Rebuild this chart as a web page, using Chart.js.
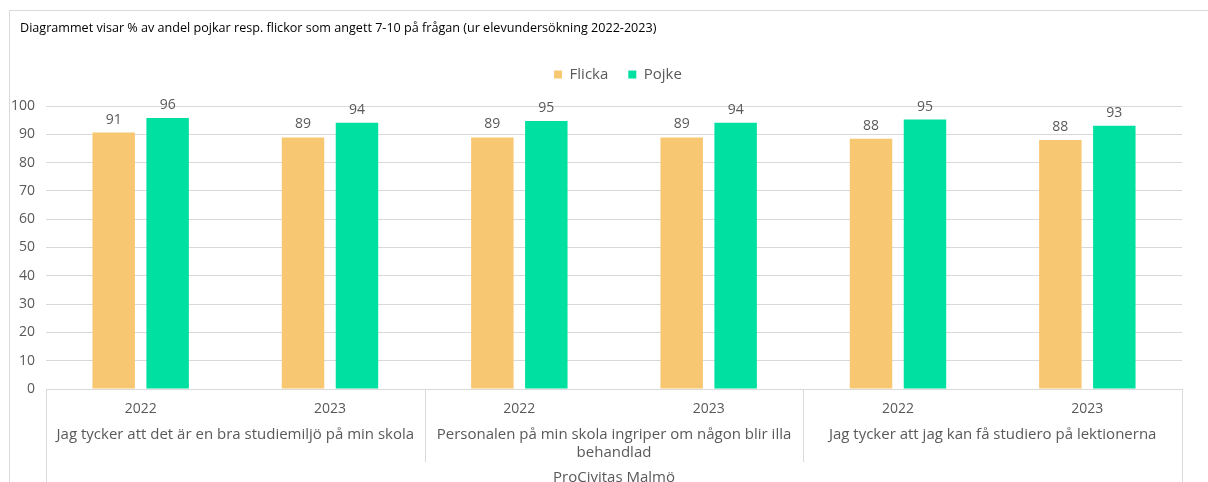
<!DOCTYPE html>
<html>
<head>
<meta charset="utf-8">
<script src="https://cdn.jsdelivr.net/npm/chart.js@4.4.1/dist/chart.umd.min.js"></script>
<style>
  html, body { margin: 0; padding: 0; background: #ffffff; }
  #wrap { width: 1208px; height: 482px; position: relative; }
</style>
</head>
<body>
<div id="wrap"><canvas id="c" width="1208" height="482"></canvas></div>
<script>
// ---- data ----
const titleText = 'Diagrammet visar % av andel pojkar resp. flickor som angett 7-10 på frågan (ur elevundersökning 2022-2023)';
const years = ['2022', '2023', '2022', '2023', '2022', '2023'];
const questions = [
  ['Jag tycker att det är en bra studiemiljö på min skola'],
  ['Personalen på min skola ingriper om någon blir illa', 'behandlad'],
  ['Jag tycker att jag kan få studiero på lektionerna']
];
const schools = ['ProCivitas Malmö'];
const seriesNames = ['Flicka', 'Pojke'];
const flicka = [90.6, 88.9, 88.9, 88.9, 88.4, 88.0];
const pojke  = [95.8, 94.1, 94.7, 94.1, 95.2, 93.0];
const yMin = 0, yMax = 100, yStep = 10;

// ---- style ----
const FONT = '"Open Sans"';
const TXT = '#595959';
const GRID = '#d9d9d9';
const COL_F = '#f8c772';
const COL_P = '#00e0a0';

const frameAndSeparators = {
  id: 'frameAndSeparators',
  afterDraw(chart) {
    const ctx = chart.ctx;
    const xs = chart.scales.x;
    const x2 = chart.scales.x2;
    const area = chart.chartArea;
    ctx.save();
    ctx.strokeStyle = GRID;
    ctx.lineWidth = 1;
    ctx.beginPath();
    ctx.moveTo(9.5, chart.height);
    ctx.lineTo(9.5, 10.5);
    ctx.lineTo(chart.width, 10.5);
    ctx.stroke();
    const per = years.length / questions.length;
    const bounds = [];
    for (let g = 0; g <= questions.length; g++) {
      let px;
      if (g === 0) px = area.left;
      else if (g === questions.length) px = area.right;
      else px = (xs.getPixelForValue(g * per - 1) + xs.getPixelForValue(g * per)) / 2;
      bounds.push(Math.round(px) + 0.5);
    }
    bounds.forEach((px, i) => {
      const outer = (i === 0 || i === bounds.length - 1);
      ctx.beginPath();
      ctx.moveTo(px, area.bottom);
      ctx.lineTo(px, outer ? chart.height : x2.bottom);
      ctx.stroke();
    });
    ctx.restore();
  }
};

const valueLabels = {
  id: 'valueLabels',
  afterDatasetsDraw(chart) {
    const ctx = chart.ctx;
    ctx.save();
    ctx.font = '14px ' + FONT;
    ctx.fillStyle = TXT;
    ctx.textAlign = 'center';
    ctx.textBaseline = 'middle';
    chart.data.datasets.forEach((ds, di) => {
      const meta = chart.getDatasetMeta(di);
      meta.data.forEach((bar, i) => {
        ctx.fillText(String(Math.round(ds.data[i])), bar.x, bar.y - 13);
      });
    });
    ctx.restore();
  }
};

const blockShift = {
  id: 'blockShift',
  afterLayout(chart) {
    chart.legend.left += 22;
    chart.legend.right += 22;
    chart.titleBlock.left += 10;
  }
};

new Chart(document.getElementById('c'), {
  type: 'bar',
  data: {
    labels: years,
    datasets: [
      { label: seriesNames[0], data: flicka, backgroundColor: COL_F, xAxisID: 'x', categoryPercentage: 0.57, barPercentage: 0.787 },
      { label: seriesNames[1], data: pojke, backgroundColor: COL_P, xAxisID: 'x', categoryPercentage: 0.57, barPercentage: 0.787 }
    ]
  },
  options: {
    responsive: false,
    animation: false,
    layout: { padding: { top: 12, left: 10, right: 26, bottom: 0 } },
    plugins: {
      title: {
        display: true, text: titleText, align: 'start', color: '#000000',
        font: { family: FONT, size: 12.6, weight: 'normal' },
        padding: { top: 8.5, bottom: 11.4 }
      },
      subtitle: {
        display: true, text: '', weight: 500, position: 'top',
        font: { size: 1, lineHeight: 1 }, padding: { top: 13, bottom: 0 }
      },
      legend: {
        display: true, position: 'top', align: 'center',
        labels: {
          color: TXT, font: { family: FONT, size: 15 },
          boxWidth: 8, boxHeight: 8, padding: 20
        }
      },
      tooltip: { enabled: false }
    },
    scales: {
      y: {
        min: yMin, max: yMax,
        ticks: { stepSize: yStep, color: TXT, font: { family: FONT, size: 14 }, padding: 11 },
        grid: { color: GRID, drawTicks: false },
        border: { display: false },
        afterFit(s) { s.width = 36; }
      },
      x: {
        type: 'category', position: 'bottom', labels: years,
        ticks: { color: TXT, font: { family: FONT, size: 14 }, padding: 12, maxRotation: 0, autoSkip: false },
        grid: { display: false, drawTicks: false },
        border: { display: true, color: GRID },
        afterFit(s) { s.height = 29; }
      },
      x2: {
        type: 'category', position: 'bottom', labels: questions, offset: true,
        ticks: { color: TXT, font: { family: FONT, size: 15, lineHeight: 1.2 }, padding: 8, maxRotation: 0, autoSkip: false },
        grid: { display: false, drawTicks: false },
        border: { display: false },
        afterFit(s) { s.height = 44; }
      },
      x3: {
        type: 'category', position: 'bottom', labels: schools, offset: true,
        ticks: { color: TXT, font: { family: FONT, size: 15 }, padding: 6.5, maxRotation: 0, autoSkip: false },
        grid: { display: false, drawTicks: false },
        border: { display: false },
        afterFit(s) { s.height = 20; }
      }
    }
  },
  plugins: [frameAndSeparators, valueLabels, blockShift]
});
</script>
</body>
</html>
